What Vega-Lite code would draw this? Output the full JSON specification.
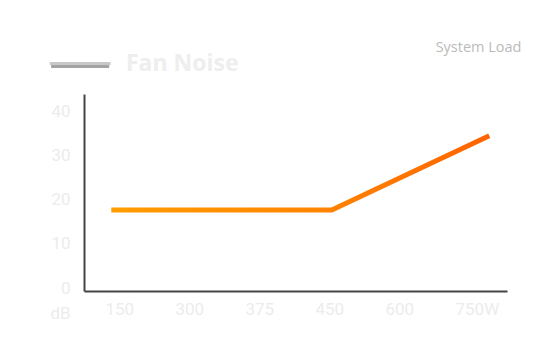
{
  "$schema": "https://vega.github.io/schema/vega-lite/v6.json",
  "autosize": "none",
  "width": 423,
  "height": 197,
  "padding": {"left": 84, "top": 94, "right": 43, "bottom": 69},
  "background": "white",
  "title": {
    "text": "Fan Noise",
    "anchor": "start",
    "frame": "group",
    "dx": 42,
    "offset": -55,
    "baseline": "alphabetic",
    "font": "Open Sans",
    "fontSize": 23,
    "fontWeight": "bold",
    "color": "#eeeeee"
  },
  "config": {
    "view": {"stroke": null},
    "axis": {"grid": false, "ticks": false, "domainColor": "#444444", "domainWidth": 2}
  },
  "layer": [
    {
      "data": {"values": [{}]},
      "mark": {"type": "rule", "color": "#a3a3a3", "strokeWidth": 3, "clip": false},
      "encoding": {
        "x": {"datum": -0.97, "type": "quantitative"},
        "x2": {"datum": -0.14},
        "y": {"datum": 51.0, "type": "quantitative"}
      }
    },
    {
      "data": {"values": [{}]},
      "mark": {"type": "rule", "color": "#c8c8c8", "strokeWidth": 3, "clip": false},
      "encoding": {
        "x": {"datum": -0.99, "type": "quantitative"},
        "x2": {"datum": -0.12},
        "y": {"datum": 51.7, "type": "quantitative"}
      }
    },
    {
      "data": {"values": [
        {"pos": -0.11, "db": 18.4},
        {"pos": 3.04, "db": 18.4},
        {"pos": 5.29, "db": 35.3}
      ]},
      "mark": {
        "type": "line",
        "strokeWidth": 5,
        "color": {
          "gradient": "linear",
          "x1": 0, "x2": 1, "y1": 0, "y2": 0,
          "stops": [
            {"offset": 0, "color": "#ff9c00"},
            {"offset": 0.55, "color": "#ff8400"},
            {"offset": 1, "color": "#ff6400"}
          ]
        }
      },
      "encoding": {
        "x": {
          "field": "pos",
          "type": "quantitative",
          "scale": {"domain": [-0.5, 5.543], "nice": false, "zero": false},
          "axis": {
            "values": [0, 1, 2, 3, 4, 5],
            "labelExpr": "['150','300','375','450','600','750W'][datum.value]",
            "labelAlign": "left",
            "labelOffset": -14,
            "labelPadding": 10,
            "labelFont": "Roboto",
            "labelFontSize": 17,
            "labelColor": "#ececec",
            "title": "System Load",
            "titleFont": "Open Sans",
            "titleFontSize": 14.5,
            "titleFontWeight": "normal",
            "titleColor": "#bbbbbb",
            "titleAlign": "right",
            "titleBaseline": "middle",
            "titleX": 437,
            "titleY": -244
          }
        },
        "y": {
          "field": "db",
          "type": "quantitative",
          "scale": {"domain": [0, 44.77], "nice": false},
          "axis": {
            "values": [0, 10, 20, 30, 40],
            "labelOffset": -3,
            "labelPadding": 14,
            "labelFont": "Roboto",
            "labelFontSize": 17,
            "labelColor": "#ececec",
            "title": "dB",
            "titleAngle": 0,
            "titleFont": "Roboto",
            "titleFontSize": 17,
            "titleFontWeight": "normal",
            "titleColor": "#ececec",
            "titleAlign": "center",
            "titleBaseline": "middle",
            "titleX": -24,
            "titleY": 219
          }
        }
      }
    }
  ]
}
